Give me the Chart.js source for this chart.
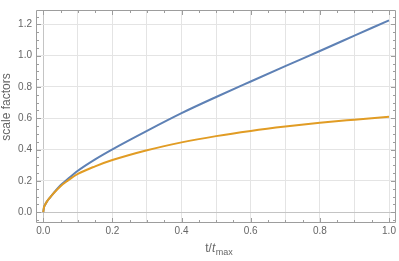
<!DOCTYPE html>
<html>
<head>
<meta charset="utf-8">
<script src="https://cdn.jsdelivr.net/npm/chart.js@4.4.1/dist/chart.umd.min.js"></script>
<style>
html,body{margin:0;padding:0;background:#fff;}
#wrap{width:399px;height:261px;position:relative;}
</style>
</head>
<body>
<div id="wrap"><canvas id="c" width="399" height="261"></canvas></div>
<script>
// t / t_max sample positions
const tValues = [0, 0.002, 0.005, 0.01, 0.02, 0.03, 0.05, 0.07, 0.1, 0.15, 0.2, 0.3, 0.4, 0.5, 0.6, 0.7, 0.8, 0.9, 1.0];
// blue curve
const blueSeries = [0, 0.03, 0.046, 0.066, 0.095, 0.122, 0.172, 0.210, 0.265, 0.338, 0.402, 0.52, 0.633, 0.736, 0.835, 0.933, 1.03, 1.128, 1.226];
// orange curve
const orangeSeries = [0, 0.03, 0.046, 0.066, 0.095, 0.121, 0.166, 0.200, 0.244, 0.293, 0.333, 0.396, 0.446, 0.486, 0.519, 0.547, 0.571, 0.591, 0.61];
const xTickLabels = ["0.0", "0.2", "0.4", "0.6", "0.8", "1.0"];
const yTickLabels = ["0.0", "0.2", "0.4", "0.6", "0.8", "1.0", "1.2"];
const xGridValues = [0, 0.1, 0.2, 0.3, 0.4, 0.5, 0.6, 0.7, 0.8, 0.9, 1.0];
const yGridValues = [0, 0.2, 0.4, 0.6, 0.8, 1.0, 1.2];
const yTitle = "scale factors";

const FONT = "'Liberation Sans', Arial, sans-serif";
const LABEL = "#666666";
const FRAME = "#9d9d9d";

const framePlugin = {
  id: 'frame',
  afterDraw(chart) {
    const {ctx, chartArea: a, scales} = chart;
    const xs = scales.x, ys = scales.y;
    ctx.save();
    ctx.strokeStyle = FRAME;
    ctx.lineWidth = 1;
    const L = Math.round(a.left) + 0.5, R = Math.round(a.right) - 0.5;
    const T = Math.round(a.top) + 0.5, B = Math.round(a.bottom) - 0.5;
    ctx.beginPath();
    ctx.rect(L, T, R - L, B - T);
    ctx.stroke();
    ctx.beginPath();
    for (let i = 0; i <= 20; i++) {
      const v = i * 0.05;
      const major = (i % 4 === 0);
      const len = major ? 4.5 : 2.5;
      const px = Math.round(xs.getPixelForValue(v)) + 0.5;
      ctx.moveTo(px, B); ctx.lineTo(px, B - len);
      ctx.moveTo(px, T); ctx.lineTo(px, T + len);
    }
    for (let i = -1; i <= 25; i++) {
      const v = i * 0.05;
      if (v < ys.min || v > ys.max) continue;
      const major = (i % 4 === 0);
      const len = major ? 4.5 : 2.5;
      const py = Math.round(ys.getPixelForValue(v)) + 0.5;
      ctx.moveTo(L, py); ctx.lineTo(L + len, py);
      ctx.moveTo(R, py); ctx.lineTo(R - len, py);
    }
    ctx.stroke();
    // axis titles
    ctx.fillStyle = LABEL;
    ctx.save();
    ctx.translate(6.5, 107);
    ctx.rotate(-Math.PI / 2);
    ctx.textAlign = 'center';
    ctx.textBaseline = 'middle';
    ctx.font = "12px " + FONT;
    ctx.fillText(yTitle, 0, 0);
    ctx.restore();
    // x title t/t_max
    const cx = (a.left + a.right) / 2 + 3;
    ctx.textBaseline = 'alphabetic';
    ctx.textAlign = 'left';
    const f1 = "12px " + FONT, f2 = "italic 12px " + FONT, f3 = "9px " + FONT;
    ctx.font = f1; const w1 = ctx.measureText("t/").width;
    ctx.font = f2; const w2 = ctx.measureText("t").width;
    ctx.font = f3; const w3 = ctx.measureText("max").width;
    let x0 = cx - (w1 + w2 + w3) / 2;
    const base = 252;
    ctx.font = f1; ctx.fillText("t/", x0, base); x0 += w1;
    ctx.font = f2; ctx.fillText("t", x0, base); x0 += w2 + 0.5;
    ctx.font = f3; ctx.fillText("max", x0, base + 3);
    ctx.restore();
  }
};

const mk = (ys) => tValues.map((t, i) => ({x: t, y: ys[i]}));

new Chart(document.getElementById('c'), {
  type: 'scatter',
  data: {
    datasets: [
      {label: 'a1', data: mk(blueSeries), showLine: true, borderColor: '#5E81B5', borderWidth: 2, pointRadius: 0, cubicInterpolationMode: 'monotone', order: 1},
      {label: 'a2', data: mk(orangeSeries), showLine: true, borderColor: '#E19C24', borderWidth: 2, pointRadius: 0, cubicInterpolationMode: 'monotone', order: 0}
    ]
  },
  options: {
    responsive: false,
    animation: false,
    devicePixelRatio: 1,
    layout: {padding: {left: 0, right: 2.5, top: 0.5, bottom: 0}},
    plugins: {legend: {display: false}, tooltip: {enabled: false}},
    scales: {
      x: {
        type: 'linear', min: -0.021, max: 1.019,
        afterBuildTicks(s) { s.ticks = xGridValues.map(v => ({value: v})); },
        afterFit(s) { s.height = 38.5; },
        border: {display: false},
        grid: {drawTicks: false, color: (c) => (c.tick && c.tick.value === 0) ? '#c4c4c4' : '#e4e4e4', lineWidth: 1},
        ticks: {
          padding: 3, color: LABEL, font: {family: FONT, size: 10}, maxRotation: 0, autoSkip: false,
          callback(v) { const k = Math.round(v * 10); return (k % 2 === 0) ? xTickLabels[k / 2] : ''; }
        }
      },
      y: {
        type: 'linear', min: -0.066, max: 1.292,
        afterBuildTicks(s) { s.ticks = yGridValues.map(v => ({value: v})); },
        afterFit(s) { s.width = 36; },
        border: {display: false},
        grid: {drawTicks: false, color: (c) => (c.tick && c.tick.value === 0) ? '#c4c4c4' : '#e4e4e4', lineWidth: 1},
        ticks: {
          padding: 4, color: LABEL, font: {family: FONT, size: 10},
          callback(v) { return yTickLabels[Math.round(v * 5)]; }
        }
      }
    }
  },
  plugins: [framePlugin]
});
</script>
</body>
</html>
